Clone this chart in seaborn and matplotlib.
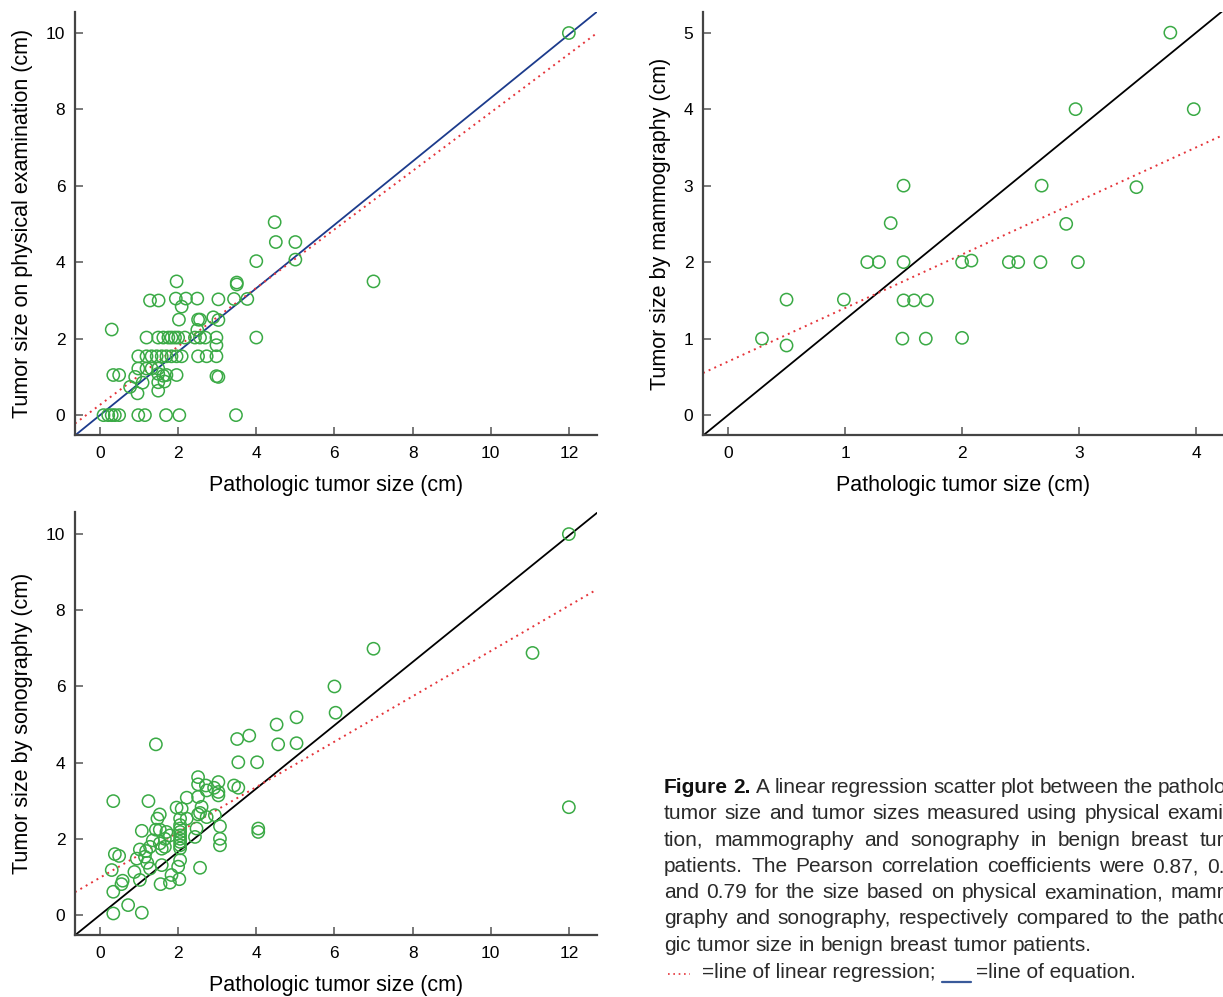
import numpy as np
import seaborn as sns
import matplotlib.pyplot as plt
from matplotlib.lines import Line2D
from matplotlib import font_manager

# physical examination vs pathologic tumor size (cm)
phys_path = [4.47, 4.5, 5.0, 4.0, 5.0, 7.0, 1.96, 3.5, 3.5,
             1.28, 1.5, 1.94, 2.2, 2.49, 3.03, 3.43, 3.77, 2.09,
             2.02, 2.51, 2.56, 2.9, 3.03, 2.49, 0.3,
             1.19, 1.49, 1.62, 1.75, 1.83, 1.92, 2.0, 2.17, 2.43, 2.56, 2.69, 2.98, 4.0, 2.98,
             0.98, 1.19, 1.32, 1.45, 1.58, 1.7, 1.83, 1.96, 2.09, 2.51, 2.73, 2.98,
             0.98, 1.19, 1.32, 1.49,
             0.34, 0.49, 0.9, 1.49, 1.62, 1.7, 1.96, 2.98, 3.03,
             1.09, 0.77, 1.49, 1.65, 0.96, 1.49,
             0.09, 0.21, 0.3, 0.38, 0.49, 0.98, 1.15, 1.69, 2.03, 3.48, 12.0]
phys_exam = [5.05, 4.53, 4.53, 4.03, 4.07, 3.5, 3.5, 3.47, 3.42,
             3.0, 3.0, 3.05, 3.05, 3.05, 3.03, 3.04, 3.04, 2.84,
             2.5, 2.5, 2.5, 2.56, 2.49, 2.23, 2.24,
             2.03, 2.03, 2.03, 2.03, 2.03, 2.03, 2.03, 2.03, 2.03, 2.03, 2.03, 2.03, 2.03, 1.83,
             1.54, 1.54, 1.54, 1.54, 1.54, 1.54, 1.54, 1.54, 1.54, 1.54, 1.54, 1.54,
             1.22, 1.22, 1.22, 1.22,
             1.05, 1.05, 1.0, 1.08, 1.03, 1.05, 1.05, 1.02, 1.0,
             0.85, 0.74, 0.86, 0.88, 0.57, 0.64,
             0.0, 0.0, 0.0, 0.0, 0.0, 0.0, 0.0, 0.0, 0.0, 0.0, 10.0]

# mammography vs pathologic tumor size (cm)
mammo_path = [3.78, 2.97, 3.98, 1.5, 2.68, 3.49, 1.39, 2.89,
              1.19, 1.29, 1.5, 2.0, 2.08, 2.4, 2.48, 2.67, 2.99,
              0.5, 0.99, 1.5, 1.59, 1.7,
              0.29, 0.5, 1.49, 1.69, 2.0]
mammo_size = [5.0, 4.0, 4.0, 3.0, 3.0, 2.98, 2.51, 2.5,
              2.0, 2.0, 2.0, 2.0, 2.02, 2.0, 2.0, 2.0, 2.0,
              1.51, 1.51, 1.5, 1.5, 1.5,
              1.0, 0.91, 1.0, 1.0, 1.01]

# sonography vs pathologic tumor size (cm)
sono_path = [12.0, 7.0, 11.07, 12.0, 6.0,
             6.03, 5.03, 4.52, 3.82, 3.51, 4.56, 5.03, 1.43, 3.54, 4.02,
             2.51, 2.51, 2.71, 2.92, 3.03, 2.73, 3.03, 3.03, 3.43, 3.54,
             0.34, 1.24, 2.22, 2.51,
             1.96, 2.09, 1.53, 1.47, 2.56, 2.6, 2.73, 2.94, 2.51, 2.05, 2.22,
             1.43, 1.53, 1.7, 1.79, 3.07, 1.07,
             2.05, 2.05, 2.05, 2.05, 2.05, 2.05, 2.05, 2.05,
             2.47, 2.43, 3.07, 3.07, 4.05, 4.05,
             1.35, 1.53, 1.66, 1.28, 1.18, 1.02, 1.58, 1.66,
             0.38, 0.49, 0.94, 1.15, 1.21, 1.58,
             0.3, 0.88, 1.28, 2.05, 2.0, 2.56,
             1.02, 0.58, 0.55, 1.55, 1.79, 1.83, 2.03,
             0.34, 0.72, 0.34, 1.07]
sono_size = [10.0, 6.99, 6.88, 2.83, 6.0,
             5.31, 5.19, 5.0, 4.71, 4.62, 4.48, 4.51, 4.48, 4.01, 4.01,
             3.62, 3.43, 3.40, 3.34, 3.49, 3.27, 3.23, 3.14, 3.4, 3.34,
             2.99, 2.99, 3.08, 3.1,
             2.82, 2.79, 2.64, 2.53, 2.68, 2.84, 2.57, 2.62, 2.64, 2.53, 2.53,
             2.24, 2.24, 2.18, 2.09, 2.33, 2.21,
             2.36, 2.27, 2.18, 2.09, 2.0, 1.92, 1.83, 1.75,
             2.27, 2.05, 2.0, 1.83, 2.27, 2.18,
             1.96, 1.88, 2.0, 1.79, 1.68, 1.72, 1.74, 1.79,
             1.6, 1.55, 1.48, 1.53, 1.37, 1.31,
             1.18, 1.13, 1.22, 1.44, 1.27, 1.24,
             0.92, 0.9, 0.81, 0.81, 0.85, 1.05, 0.94,
             0.61, 0.26, 0.04, 0.06]

# regression lines (intercept, slope) and slope of the line of equation
phys_fit = (0.27, 0.765)
mammo_fit = (0.70, 0.70)
sono_fit = (0.98, 0.595)
phys_eq = 0.83
mammo_eq = 1.25
sono_eq = 0.83

caption = [
    "Figure 2. A linear regression scatter plot between the pathologic",
    "tumor size and tumor sizes measured using physical examina-",
    "tion, mammography and sonography in benign breast tumor",
    "patients. The Pearson correlation coefficients were 0.87, 0.61,",
    "and 0.79 for the size based on physical examination, mammo-",
    "graphy and sonography, respectively compared to the patholo-",
    "gic tumor size in benign breast tumor patients.",
]

sns.set_style("ticks")
names = {f.name for f in font_manager.fontManager.ttflist}
narrow = 'Liberation Sans Narrow' in names
axis_font = ['Liberation Sans Narrow', 'DejaVu Sans'] if narrow else ['Liberation Sans', 'DejaVu Sans']
plt.rcParams['font.family'] = ['Liberation Sans', 'DejaVu Sans']
lab_size = 18.5 if narrow else 15.5
tick_size = 14.5 if narrow else 12.5

green = '#3aaa45'
red = '#e5343a'
navy = '#1c3b8c'

W, H = 1223, 997
fig = plt.figure(figsize=(W / 100, H / 100), dpi=100)


def panel(rect, x, y, xlim, ylim, xticks, yticks, fit, eq, eq_color, ylabel):
    ax = fig.add_axes(rect)
    sns.scatterplot(x=x, y=y, ax=ax, s=78, facecolors='none', edgecolor=green,
                    linewidth=1.1, zorder=3)
    xs = np.array(xlim)
    ax.plot(xs, eq * xs, color=eq_color, lw=1.3, zorder=2)
    ax.plot(xs, fit[0] + fit[1] * xs, color=red, lw=1.4, ls=(0, (1, 2.2)), zorder=2)
    ax.set_xlim(xlim)
    ax.set_ylim(ylim)
    ax.set_xticks(xticks)
    ax.set_yticks(yticks)
    ax.spines[['top', 'right']].set_visible(False)
    for s in ['left', 'bottom']:
        ax.spines[s].set_color('#444444')
        ax.spines[s].set_linewidth(1.6)
    ax.tick_params(direction='in', length=6, width=1.1, color='#555555',
                   labelsize=tick_size, labelcolor='black')
    ax.tick_params(axis='x', pad=8)
    ax.tick_params(axis='y', pad=7)
    for lab in ax.get_xticklabels() + ax.get_yticklabels():
        lab.set_family(axis_font)
    ax.set_xlabel('Pathologic tumor size (cm)', fontsize=lab_size, family=axis_font,
                  labelpad=10, color='black')
    ax.set_ylabel(ylabel, fontsize=lab_size, family=axis_font, labelpad=9, color='black')
    return ax


panel([75 / W, 1 - 435 / H, 522 / W, 423 / H], phys_path, phys_exam,
      (-0.64, 12.72), (-0.52, 10.55), range(0, 13, 2), range(0, 11, 2),
      phys_fit, phys_eq, navy, 'Tumor size on physical examination (cm)')
panel([703 / W, 1 - 435 / H, 520 / W, 423 / H], mammo_path, mammo_size,
      (-0.214, 4.23), (-0.26, 5.27), range(0, 5), range(0, 6),
      mammo_fit, mammo_eq, 'black', 'Tumor size by mammography (cm)')
panel([75 / W, 1 - 935 / H, 522 / W, 423 / H], sono_path, sono_size,
      (-0.64, 12.72), (-0.525, 10.58), range(0, 13, 2), range(0, 11, 2),
      sono_fit, sono_eq, 'black', 'Tumor size by sonography (cm)')

# caption, justified like the printed column (the column runs past the figure edge)
renderer = fig.canvas.get_renderer()
x0, right = 664, 1253
cap_size = 15
baselines = [793, 819, 846, 872, 898, 924, 951]
for i, line in enumerate(caption):
    words = line.split()
    ts = []
    for j, w in enumerate(words):
        bold = i == 0 and j < 2
        ts.append(fig.text(0, 1 - baselines[i] / H, w, fontsize=cap_size, va='baseline',
                           color='#111111' if bold else '#2a2a2a',
                           fontweight='bold' if bold else 'normal'))
    widths = [t.get_window_extent(renderer).width for t in ts]
    if i < len(caption) - 1:
        gap = (right - x0 - sum(widths)) / (len(words) - 1)
    else:
        gap = 5.8
    x = x0
    for t, w in zip(ts, widths):
        t.set_x(x / W)
        x += w + gap

# legend line of the caption
yb = 978
fig.add_artist(Line2D([668 / W, 690 / W], [1 - 974 / H, 1 - 974 / H], color=red, lw=1.2,
                      ls=(0, (1, 2.2))))
t1 = fig.text(702 / W, 1 - yb / H, '=line of linear regression;', fontsize=cap_size,
              va='baseline', color='#2a2a2a')
end = 702 + t1.get_window_extent(renderer).width
fig.add_artist(Line2D([(end + 6) / W, (end + 35) / W], [1 - 982 / H, 1 - 982 / H],
                      color='#3a5a9a', lw=1.6))
fig.text((end + 40) / W, 1 - yb / H, '=line of equation.', fontsize=cap_size,
         va='baseline', color='#2a2a2a')

fig.savefig('out.png', dpi=100)
